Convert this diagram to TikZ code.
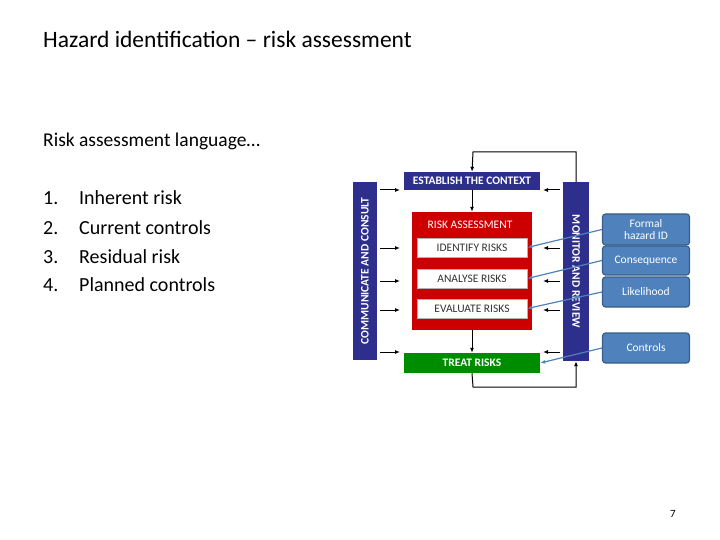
\documentclass[tikz,border=0pt]{standalone}
\usepackage{fontspec}
\setmainfont{Carlito}
\usetikzlibrary{arrows.meta}
\definecolor{cb}{HTML}{4F81BD}
\definecolor{cbd}{HTML}{385D8A}
\definecolor{nv}{HTML}{2E2F8C}
\begin{document}
\begin{tikzpicture}[x=1pt,y=-1pt,
 bar/.style={fill=nv,draw=none,text=white,font=\bfseries\fontsize{11.5}{12}\selectfont},
 wbox/.style={fill=white,draw=gray!60,font=\fontsize{11.5}{12}\selectfont,text=black!80},
 call/.style={fill=cb,draw=cbd,rounded corners=3pt,line width=1.2pt,text=white,font=\fontsize{11.5}{12.5}\selectfont,align=center},
 ar/.style={-{Latex[length=5pt,width=4pt]},line width=1pt},
 ln/.style={-{Latex[length=5pt,width=4pt]},line width=1.2pt,draw=cb}]
\useasboundingbox (0,0) rectangle (720,540);
\node[anchor=base west,inner sep=0,font=\fontsize{23.5}{27}\selectfont] (title) at (43,48) {Hazard identification – risk assessment};
\node[anchor=base west,inner sep=0,font=\fontsize{19.5}{22}\selectfont] (sub) at (43,147) {Risk assessment language…};
\foreach \n/\t/\y in {1/Inherent risk/205,2/Current controls/234,3/Residual risk/263,4/Planned controls/291}{
 \node[anchor=base west,font=\fontsize{20}{22}\selectfont,inner sep=0] (n\n) at (43,\y) {\n.};
 \node[anchor=base west,font=\fontsize{20}{22}\selectfont,inner sep=0] (t\n) at (79,\y) {\t};}
\node[font=\fontsize{11}{12}\selectfont] (pg) at (673,514) {7};
% bars
\node[bar,minimum width=24,minimum height=178,inner sep=0] (comm) at (365,271) {\rotatebox{90}{COMMUNICATE AND CONSULT}};
\node[bar,minimum width=26,minimum height=179,inner sep=0] (mon) at (576,271.5) {\rotatebox{-90}{MONITOR AND REVIEW}};
\node[bar,minimum width=136,minimum height=18,inner sep=0] (est) at (472,181) {ESTABLISH THE CONTEXT};
\node[fill=red!80!black,minimum width=120,minimum height=118,inner sep=0] (ra) at (472,271) {};
\node[text=white,font=\fontsize{11.5}{12}\selectfont] (rat) at (470,225) {RISK ASSESSMENT};
\node[wbox,minimum width=110,minimum height=19,inner sep=0] (id) at (472,247.5) {IDENTIFY RISKS};
\node[wbox,minimum width=110,minimum height=19,inner sep=0] (an) at (472,278.5) {ANALYSE RISKS};
\node[wbox,minimum width=110,minimum height=19,inner sep=0] (ev) at (472,308.5) {EVALUATE RISKS};
\node[bar,fill=green!55!black,minimum width=136,minimum height=20,inner sep=0] (tr) at (472,363) {TREAT RISKS};
% loops
\coordinate (tl) at (473,152); \coordinate (tr1) at (576,152);
\draw[ar] (mon.north) -- (tr1) -- (tl) -- (est.north);
\coordinate (bl) at (473,387); \coordinate (br) at (576,387);
\draw[ar] (tr.south) -- (bl) -- (br) -- (mon.south);
\draw[ar] (est.south) -- (ra.north);
\draw[ar] (ra.south) -- (tr.north);
\foreach \y in {190,248,281,310,352}{
 \coordinate (cl\y) at (380,\y); \coordinate (cr\y) at (400,\y);
 \draw[ar] (cl\y) -- (cr\y);
 \coordinate (ml\y) at (560,\y); \coordinate (mr\y) at (543,\y);
 \draw[ar] (ml\y) -- (mr\y);}
% callouts
\node[call,minimum width=87,minimum height=31,inner sep=1] (f) at (646,229.5) {Formal\\hazard ID};
\node[call,minimum width=87,minimum height=29] (c) at (646,260.5) {Consequence};
\node[call,minimum width=87,minimum height=30] (l) at (646,292) {Likelihood};
\node[call,minimum width=87,minimum height=30] (co) at (646,348) {Controls};
\draw[ln] (f.west) -- (id.east);
\draw[ln] (c.west) -- (an.east);
\draw[ln] (l.west) -- (ev.east);
\draw[ln] (co.west) -- (tr.east);
\end{tikzpicture}
\end{document}
